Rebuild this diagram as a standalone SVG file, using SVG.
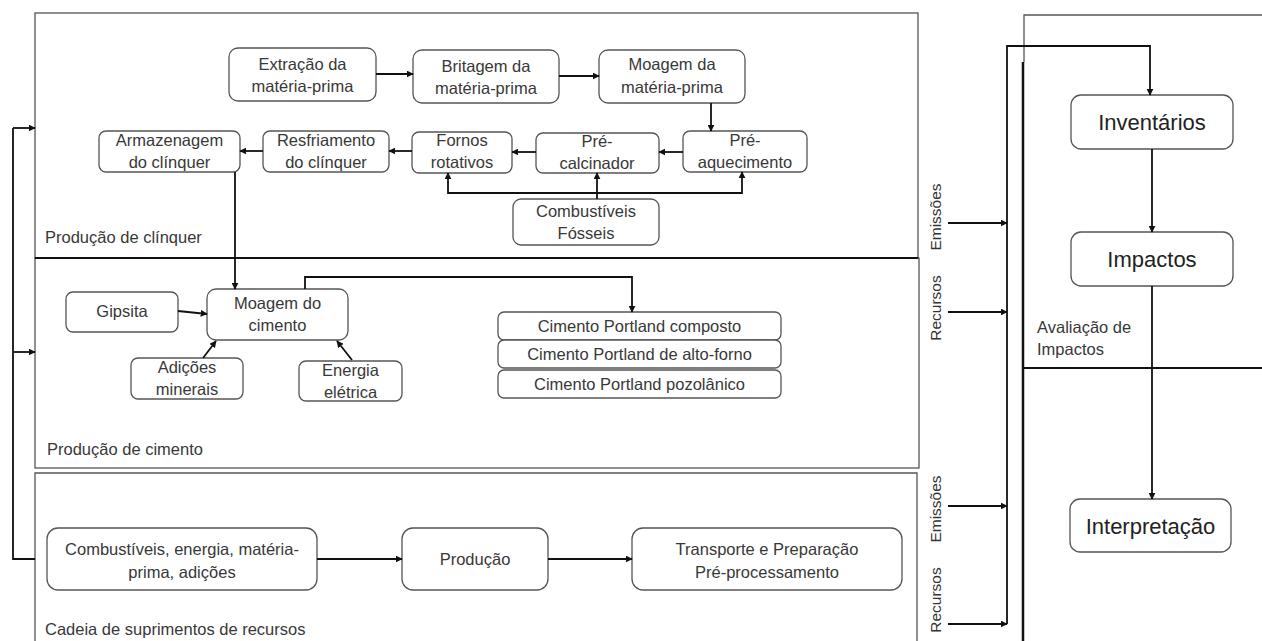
<svg xmlns="http://www.w3.org/2000/svg" width="1262" height="641" viewBox="0 0 1262 641">
<defs>
<marker id="ah" viewBox="0 0 10 10" refX="9" refY="5" markerWidth="7" markerHeight="7" markerUnits="userSpaceOnUse" orient="auto">
<path d="M0,0 L10,5 L0,10 z" fill="#111"/>
</marker>
<style>
.frame{fill:none;stroke:#555;stroke-width:1.3}
.node rect{fill:#fff;stroke:#555;stroke-width:1.3}
.t{font-family:"Liberation Sans",Arial,sans-serif;font-size:16.5px;fill:#383838;text-anchor:middle}
.big{font-family:"Liberation Sans",Arial,sans-serif;font-size:22px;fill:#222;text-anchor:middle}
.lbl{font-family:"Liberation Sans",Arial,sans-serif;font-size:16.5px;fill:#383838}
.rot{font-family:"Liberation Sans",Arial,sans-serif;font-size:15.5px;fill:#333;text-anchor:middle}
.c{fill:none;stroke:#111;stroke-width:1.8}
.ca{fill:none;stroke:#111;stroke-width:1.8;marker-end:url(#ah)}
.thick{fill:none;stroke:#111;stroke-width:2.5}
</style>
</defs>
<rect width="1262" height="641" fill="#fff"/>

<g id="frames">
<rect class="frame" x="35" y="13" width="883" height="245"/>
<rect class="frame" x="35" y="258" width="884" height="210"/>
<path class="frame" d="M35,645 V473 H917 V645"/>
<line x1="35" y1="258" x2="918" y2="258" stroke="#111" stroke-width="2"/>
<path class="frame" d="M1024,62 V15 H1262"/>
<line class="thick" x1="1023" y1="62" x2="1023" y2="641"/>
<line x1="1023" y1="368" x2="1262" y2="368" stroke="#111" stroke-width="2"/>
</g>

<g id="labels">
<text class="lbl" x="45" y="243">Produção de clínquer</text>
<text class="lbl" x="47" y="455">Produção de cimento</text>
<text class="lbl" x="45" y="635">Cadeia de suprimentos de recursos</text>
<text class="lbl" x="1037" y="333">Avaliação de</text>
<text class="lbl" x="1037" y="355">Impactos</text>
<text class="rot" transform="translate(941,217) rotate(-90)">Emissões</text>
<text class="rot" transform="translate(941,308) rotate(-90)">Recursos</text>
<text class="rot" transform="translate(941,509) rotate(-90)">Emissões</text>
<text class="rot" transform="translate(941,600) rotate(-90)">Recursos</text>
</g>

<g id="n-extracao" class="node"><rect x="229" y="48" width="147" height="53" rx="9"/><text class="t" x="302.5" y="70">Extração da</text><text class="t" x="302.5" y="92">matéria-prima</text></g>
<g id="n-britagem" class="node"><rect x="413" y="50" width="146" height="53" rx="9"/><text class="t" x="486" y="72">Britagem da</text><text class="t" x="486" y="94">matéria-prima</text></g>
<g id="n-moagem-mp" class="node"><rect x="599" y="50" width="146" height="53" rx="9"/><text class="t" x="672" y="70">Moagem da</text><text class="t" x="672" y="93">matéria-prima</text></g>
<g id="n-preaquec" class="node"><rect x="683" y="131" width="124" height="41" rx="7"/><text class="t" x="745" y="146">Pré-</text><text class="t" x="745" y="168">aquecimento</text></g>
<g id="n-precalc" class="node"><rect x="536" y="133" width="123" height="40" rx="7"/><text class="t" x="597" y="147">Pré-</text><text class="t" x="597" y="169">calcinador</text></g>
<g id="n-fornos" class="node"><rect x="412" y="132" width="100" height="41" rx="7"/><text class="t" x="462" y="146">Fornos</text><text class="t" x="462" y="168">rotativos</text></g>
<g id="n-resfriamento" class="node"><rect x="263" y="131" width="126" height="41" rx="7"/><text class="t" x="326" y="146">Resfriamento</text><text class="t" x="326" y="168">do clínquer</text></g>
<g id="n-armazenagem" class="node"><rect x="99" y="131" width="141" height="41" rx="7"/><text class="t" x="169.5" y="146">Armazenagem</text><text class="t" x="169.5" y="168">do clínquer</text></g>
<g id="n-combfosseis" class="node"><rect x="513" y="199" width="146" height="46" rx="8"/><text class="t" x="586" y="217">Combustíveis</text><text class="t" x="586" y="239">Fósseis</text></g>

<g id="n-gipsita" class="node"><rect x="66" y="292" width="112" height="40" rx="7"/><text class="t" x="122" y="317">Gipsita</text></g>
<g id="n-moagem-cim" class="node"><rect x="207" y="289" width="141" height="51" rx="9"/><text class="t" x="277.5" y="309">Moagem do</text><text class="t" x="277.5" y="331">cimento</text></g>
<g id="n-adicoes" class="node"><rect x="131" y="358" width="112" height="41" rx="7"/><text class="t" x="187" y="373">Adições</text><text class="t" x="187" y="395">minerais</text></g>
<g id="n-energia" class="node"><rect x="299" y="361" width="103" height="40" rx="7"/><text class="t" x="350.5" y="376">Energia</text><text class="t" x="350.5" y="398">elétrica</text></g>
<g id="n-cim1" class="node"><rect x="498" y="312" width="283" height="28" rx="6"/><text class="t" x="639.5" y="332">Cimento Portland composto</text></g>
<g id="n-cim2" class="node"><rect x="498" y="340" width="283" height="28" rx="6"/><text class="t" x="639.5" y="360">Cimento Portland de alto-forno</text></g>
<g id="n-cim3" class="node"><rect x="498" y="370" width="283" height="28" rx="6"/><text class="t" x="639.5" y="390">Cimento Portland pozolânico</text></g>

<g id="n-combust" class="node"><rect x="47" y="528" width="270" height="62" rx="11"/><text class="t" x="182" y="555">Combustíveis, energia, matéria-</text><text class="t" x="182" y="578">prima, adições</text></g>
<g id="n-producao" class="node"><rect x="402" y="528" width="146" height="62" rx="11"/><text class="t" x="475" y="565">Produção</text></g>
<g id="n-transporte" class="node"><rect x="632" y="528" width="270" height="62" rx="11"/><text class="t" x="767" y="555">Transporte e Preparação</text><text class="t" x="767" y="578">Pré-processamento</text></g>

<g id="n-inventarios" class="node"><rect x="1071" y="95" width="162" height="54" rx="10"/><text class="big" x="1152" y="130">Inventários</text></g>
<g id="n-impactos" class="node"><rect x="1071" y="232" width="162" height="54" rx="10"/><text class="big" x="1152" y="267">Impactos</text></g>
<g id="n-interpretacao" class="node"><rect x="1070" y="499" width="161" height="53" rx="10"/><text class="big" x="1150.5" y="534">Interpretação</text></g>

<g id="connectors">
<line class="ca" x1="376" y1="74" x2="413" y2="74"/>
<line class="ca" x1="559" y1="76" x2="599" y2="76"/>
<line class="ca" x1="711" y1="103" x2="711" y2="131"/>
<line class="ca" x1="683" y1="152" x2="659" y2="152"/>
<line class="ca" x1="536" y1="152" x2="512" y2="152"/>
<line class="ca" x1="412" y1="151" x2="389" y2="151"/>
<line class="ca" x1="263" y1="151" x2="240" y2="151"/>
<line class="ca" x1="597" y1="199" x2="597" y2="173"/>
<path class="ca" d="M597,193 H448 V173"/>
<path class="ca" d="M597,193 H742 V172"/>
<line class="ca" x1="235" y1="172" x2="235" y2="289"/>
<line class="ca" x1="178" y1="311" x2="207" y2="314"/>
<line class="ca" x1="203" y1="358" x2="216" y2="341"/>
<line class="ca" x1="352" y1="360" x2="337" y2="341"/>
<path class="ca" d="M305,289 V277 H632 V312"/>
<line class="ca" x1="317" y1="559" x2="402" y2="559"/>
<line class="ca" x1="548" y1="559" x2="632" y2="559"/>
<path class="c" d="M35,559 H13 V128"/>
<line class="ca" x1="13" y1="128" x2="35" y2="128"/>
<line class="ca" x1="13" y1="352" x2="35" y2="352"/>
<line class="ca" x1="948" y1="223" x2="1007" y2="223"/>
<line class="ca" x1="948" y1="312" x2="1007" y2="312"/>
<line class="ca" x1="948" y1="506" x2="1007" y2="506"/>
<line class="ca" x1="948" y1="624" x2="1007" y2="624"/>
<path class="ca" d="M1007,624 V46 H1150 V95"/>
<line class="ca" x1="1152" y1="149" x2="1152" y2="232"/>
<line class="ca" x1="1152" y1="286" x2="1152" y2="499"/>
</g>
</svg>
